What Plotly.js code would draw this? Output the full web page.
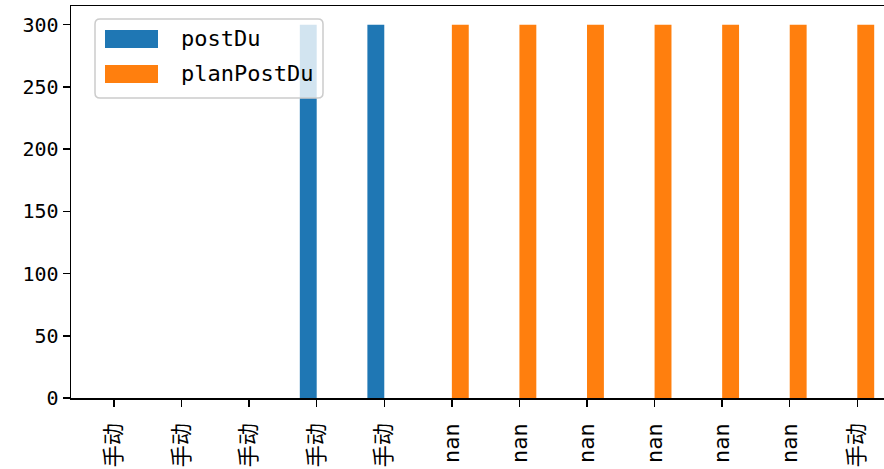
<!DOCTYPE html>
<html>
<head>
<meta charset="utf-8">
<script src="https://cdn.plot.ly/plotly-3.0.1.min.js"></script>
<style>html,body{margin:0;padding:0;background:#fff;overflow:hidden;}#chart{width:884px;height:469px;}</style>
</head>
<body>
<div id="chart"></div>
<script>
const categories = ["手动","手动","手动","手动","手动","nan","nan","nan","nan","nan","nan","手动"];
const postDu = [0, 0, 0, 300, 300, null, null, null, null, null, null, null];
const planPostDu = [null, null, null, null, null, 300, 300, 300, 300, 300, 300, 300];
const seriesNames = ["postDu", "planPostDu"];
const seriesColors = ["#1f77b4", "#ff7f0e"];

const idx = categories.map((_, i) => i);
const FONT = "'DejaVu Sans Mono', 'Noto Sans CJK SC', monospace";
const XFONT = "'DejaVu Sans Mono', 'Noto Sans CJK SC', monospace";

const W = 884, H = 469, ML = 71, MR = 0, MT = 6, MB = 71;
const pw = W - ML - MR, ph = H - MT - MB;
// pixel -> paper helpers for the legend box
const px = v => (v - ML) / pw;
const py = v => 1 - (v - MT) / ph;

const traces = [
  {type: "bar", name: seriesNames[0], x: idx, y: postDu, width: 0.25, offset: -0.25,
   marker: {color: seriesColors[0], line: {width: 0}}, showlegend: false},
  {type: "bar", name: seriesNames[1], x: idx, y: planPostDu, width: 0.25, offset: 0,
   marker: {color: seriesColors[1], line: {width: 0}}, showlegend: false}
];

// legend box (rounded) drawn as shapes
const bx0 = 95, bx1 = 323, by0 = 19, by1 = 98, r = 5;
const boxPath = `M ${px(bx0 + r)} ${py(by0)} L ${px(bx1 - r)} ${py(by0)} Q ${px(bx1)} ${py(by0)} ${px(bx1)} ${py(by0 + r)} ` +
  `L ${px(bx1)} ${py(by1 - r)} Q ${px(bx1)} ${py(by1)} ${px(bx1 - r)} ${py(by1)} ` +
  `L ${px(bx0 + r)} ${py(by1)} Q ${px(bx0)} ${py(by1)} ${px(bx0)} ${py(by1 - r)} ` +
  `L ${px(bx0)} ${py(by0 + r)} Q ${px(bx0)} ${py(by0)} ${px(bx0 + r)} ${py(by0)} Z`;

const shapes = [
  {type: "path", xref: "paper", yref: "paper", path: boxPath, layer: "above",
   fillcolor: "rgba(255,255,255,0.8)", line: {color: "#cccccc", width: 1.5}}
];
const annotations = [];
const rowY = [39, 74];
seriesNames.forEach((nm, i) => {
  shapes.push({type: "rect", xref: "paper", yref: "paper", layer: "above",
    x0: px(105), x1: px(158), y0: py(rowY[i] - 9), y1: py(rowY[i] + 9),
    fillcolor: seriesColors[i], line: {width: 0}});
  annotations.push({xref: "paper", yref: "paper", x: px(179), y: py(rowY[i]),
    xanchor: "left", yanchor: "middle", showarrow: false, text: nm,
    font: {family: FONT, size: 22, color: "#000"}});
});

const layout = {
  width: W, height: H,
  margin: {l: ML, r: MR, t: MT, b: MB, pad: 0},
  paper_bgcolor: "#fff", plot_bgcolor: "#fff",
  barmode: "overlay",
  showlegend: false,
  font: {family: FONT, size: 20, color: "#000"},
  xaxis: {
    type: "linear", range: [-0.636, 11.395],
    tickmode: "array", tickvals: idx, ticktext: categories,
    tickangle: -90, ticks: "outside", ticklen: 7, tickwidth: 1.5, tickcolor: "#000",
    ticklabelstandoff: 8,
    showline: true, linecolor: "#000", linewidth: 1.5, mirror: true,
    showgrid: false, zeroline: false,
    tickfont: {family: XFONT, size: 22}
  },
  yaxis: {
    range: [0, 315], tickvals: [0, 50, 100, 150, 200, 250, 300],
    ticks: "outside", ticklen: 7, tickwidth: 1.5, tickcolor: "#000",
    showline: true, linecolor: "#000", linewidth: 1.5, mirror: false,
    showgrid: false, zeroline: false,
    tickfont: {family: FONT, size: 20}
  },
  shapes: shapes,
  annotations: annotations
};

Plotly.newPlot("chart", traces, layout, {displayModeBar: false, staticPlot: true});
</script>
</body>
</html>
